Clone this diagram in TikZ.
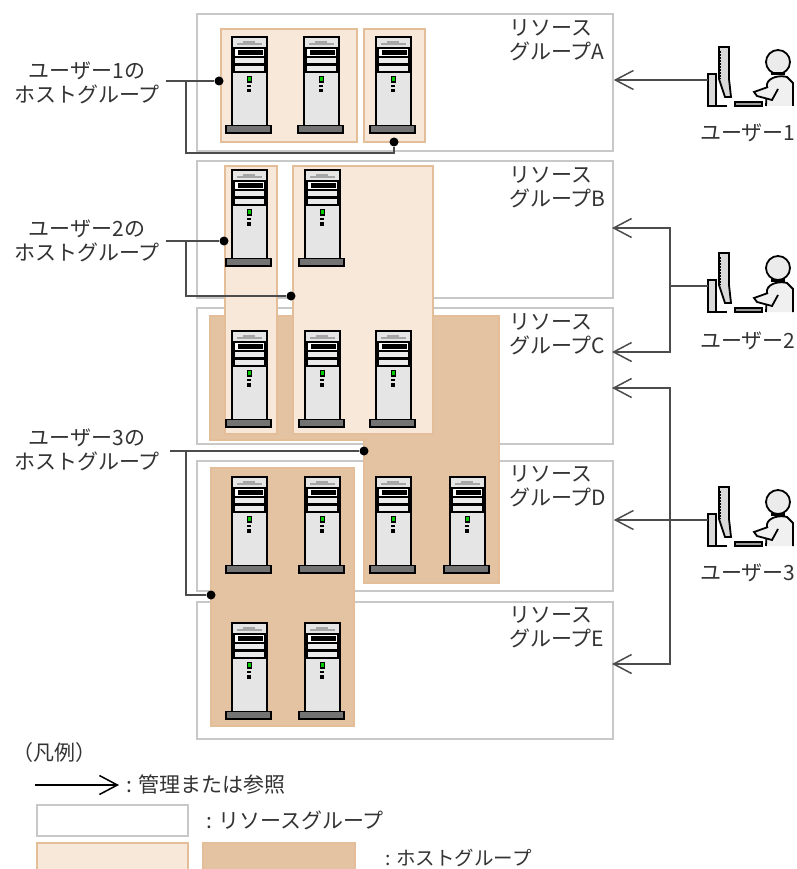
\documentclass[tikz,border=0pt]{standalone}
\usepackage{fontspec}
\setmainfont{Noto Sans CJK JP}
\usetikzlibrary{arrows.meta,positioning}

\definecolor{rgline}{HTML}{C8C8C8}
\definecolor{hglight}{HTML}{F7E8D9}
\definecolor{hgdark}{HTML}{E4C3A2}
\definecolor{hgline}{HTML}{E3BE98}

\tikzset{
  txt/.style={inner sep=0pt, text=black!80, font=\fontsize{21}{24}\selectfont},
  rgroup/.style={draw=rgline, line width=1.8pt, fill=white, inner sep=0pt, anchor=north west},
  hlight/.style={draw=hgline, line width=2pt, fill=hglight, inner sep=0pt, anchor=north west},
  hdark/.style={draw=hgline, line width=1.5pt, fill=hgdark, inner sep=0pt, anchor=north west},
  hdot/.style={circle, fill=black, inner sep=0pt, minimum size=9pt},
  conn/.style={draw=black!70, line width=1.9pt},
  mgmt/.style={draw=black!70, line width=1.9pt, -{Straight Barb[length=18pt,width=19pt,line width=1.5pt]}},
  server/.pic={
    \draw[black, line width=1.6pt, fill=black!10] (0,0) rectangle (35,89);
    \draw[black!35, line width=1.5pt] (5,7) -- (30,7);
    \draw[black!35, line width=1.5pt] (11,5) -- (23,5);
    \fill[black] (1,10) rectangle (34,36);
    \fill[white] (3,12) rectangle (32,19);
    \fill[black] (6,13) rectangle (31,18);
    \fill[black!8] (3,21) rectangle (32,26);
    \fill[black!8] (3,29) rectangle (32,34);
    \fill[black] (15,39) rectangle (20,46);
    \fill[green!80!black] (16,40) rectangle (18.5,44);
    \fill[black] (15,48) rectangle (19,50);
    \fill[black] (15,52) rectangle (19,55.5);
    \draw[black, line width=1.6pt, fill=black!55] (-6,88.5) rectangle (39,96);
  },
  person/.pic={
    % monitor and stand
    \draw[black, line width=1.8pt, fill=black!15] (11,0) -- (21,0) -- (21,32) -- (23,50) -- (17,50) -- (11,32) -- cycle;
    \draw[black, line width=2pt, densely dotted] (12,4) -- (12,32);
    \draw[black, line width=1.8pt, fill=black!15] (0,27) rectangle (8,59);
    \draw[black, line width=2.4pt] (0,59) -- (19,59);
    \draw[black, line width=1.8pt, fill=black!40] (27,55) rectangle (54,59);
    % head and body
    \draw[black, line width=1.8pt, fill=black!8] (70,15) circle (12);
    \draw[black, line width=3pt] (63,27) -- (77,27);
    \draw[black, line width=1.8pt, fill=black!6] (58,59) -- (59,37) .. controls (61,30) and (72,28) .. (79,30) -- (85,36) -- (85,59);
    \draw[black, line width=1.8pt, fill=black!6] (60,40) -- (46,45) -- (49,49) -- (64,53) -- (70,42);
  }
}

\begin{document}
\begin{tikzpicture}[x=1pt,y=-1pt]
  \path[use as bounding box, clip] (0,0) rectangle (796,869);

  % resource groups
  \node[rgroup, minimum width=416pt, minimum height=137pt] (rga) at (196,13) {};
  \node[rgroup, minimum width=416pt, minimum height=137pt] (rgb) at (196,160) {};
  \node[rgroup, minimum width=416pt, minimum height=136pt] (rgc) at (196,307) {};
  \node[rgroup, minimum width=416pt, minimum height=130pt] (rgd) at (196,460) {};
  \node[rgroup, minimum width=416pt, minimum height=137pt] (rge) at (196,601) {};

  \node[txt, align=left, anchor=north west] (lrga) at (509,19) {リソース\\グループA};
  \node[txt, align=left, anchor=north west] (lrgb) at (509,166) {リソース\\グループB};
  \node[txt, align=left, anchor=north west] (lrgc) at (509,313) {リソース\\グループC};
  \node[txt, align=left, anchor=north west] (lrgd) at (509,465) {リソース\\グループD};
  \node[txt, align=left, anchor=north west] (lrge) at (509,606) {リソース\\グループE};

  % host groups
  \draw[draw=hgline, line width=1.5pt, fill=hgdark]
    (210,316) -- (499,316) -- (499,583) -- (364,583) -- (364,440) -- (210,440) -- cycle;
  \node[hdark, minimum width=143pt, minimum height=258pt] (hg3b) at (210,467) {};
  \node[hlight, minimum width=136pt, minimum height=113pt] (hg1a) at (220,28) {};
  \node[hlight, minimum width=61pt, minimum height=113pt] (hg1b) at (363,28) {};
  \node[hlight, minimum width=52pt, minimum height=268pt] (hg2a) at (224,165) {};
  \node[hlight, minimum width=140pt, minimum height=268pt] (hg2b) at (292,165) {};

  % servers
  \foreach \sx/\sy in {232/37, 304/37, 376/37,
                       232/170, 305/170,
                       232/331, 305/331, 376/331,
                       232/477, 305/477, 376/477, 450/477,
                       232/623, 305/623}
    \pic at (\sx,\sy) {server};

  % users
  \pic at (708,47) {person};
  \pic at (708,253) {person};
  \pic at (708,487) {person};
  \node[txt] (lusr1) at (748,133) {ユーザー1};
  \node[txt] (lusr2) at (748,341) {ユーザー2};
  \node[txt] (lusr3) at (748,573) {ユーザー3};

  % host group labels
  \node[txt, align=center] (lhg1) at (87,83) {ユーザー1の\\ホストグループ};
  \node[txt, align=center] (lhg2) at (87,241) {ユーザー2の\\ホストグループ};
  \node[txt, align=center] (lhg3) at (87,450) {ユーザー3の\\ホストグループ};

  % connectors of host groups
  \node[hdot] (d1a) at (219,81) {};
  \node[hdot] (d1b) at (394,142) {};
  \node[hdot] (d2a) at (224,241) {};
  \node[hdot] (d2b) at (291,296) {};
  \node[hdot] (d3a) at (364,451) {};
  \node[hdot] (d3b) at (211,595) {};
  \coordinate (s1) at (166,81);
  \coordinate (s2) at (166,241);
  \coordinate (s3) at (170,451);
  \coordinate (j1) at (186,81);
  \coordinate (j2) at (186,241);
  \coordinate (j3) at (186,451);
  \coordinate (k1) at (394,153);
  \draw[conn] (s1) -- (d1a);
  \draw[conn] (j1) |- (k1) -- (d1b);
  \draw[conn] (s2) -- (d2a);
  \draw[conn] (j2) |- (d2b);
  \draw[conn] (s3) -- (d3a);
  \draw[conn] (j3) |- (d3b);

  % management arrows
  \coordinate (u1) at (708,80);
  \coordinate (u2) at (708,286);
  \coordinate (u3) at (708,520);
  \coordinate (b2) at (670,286);
  \coordinate (b3) at (670,520);
  \draw[mgmt] (u1) -- (u1 -| rga.east);
  \draw[conn] (u2) -- (b2);
  \draw[mgmt] (b2) |- (612,228);
  \draw[mgmt] (b2) |- (612,352);
  \draw[mgmt] (u3) -- (u3 -| rgd.east);
  \draw[mgmt] (b3) |- (612,388);
  \draw[mgmt] (b3) |- (612,664);

  % legend
  \node[txt, anchor=west] (lleg) at (12,753) {（凡例）};
  \coordinate (la) at (35,785);
  \coordinate (lb) at (119,785);
  \draw[mgmt, draw=black] (la) -- (lb);
  \node[txt, anchor=west] (lmgmt) at (126,785) {: 管理または参照};
  \node[rgroup, minimum width=151pt, minimum height=31pt] (lrg) at (36,804) {};
  \node[txt, right=17pt of lrg] (lrgt) {: リソースグループ};
  \node[hlight, minimum width=151pt, minimum height=40pt] (lhl) at (36,842) {};
  \node[hdark, minimum width=152pt, minimum height=40pt] (lhd) at (202,842) {};
  \node[txt, anchor=west, font=\fontsize{19.5}{23}\selectfont] (lhgt) at (385,858) {: ホストグループ};
\end{tikzpicture}
\end{document}
